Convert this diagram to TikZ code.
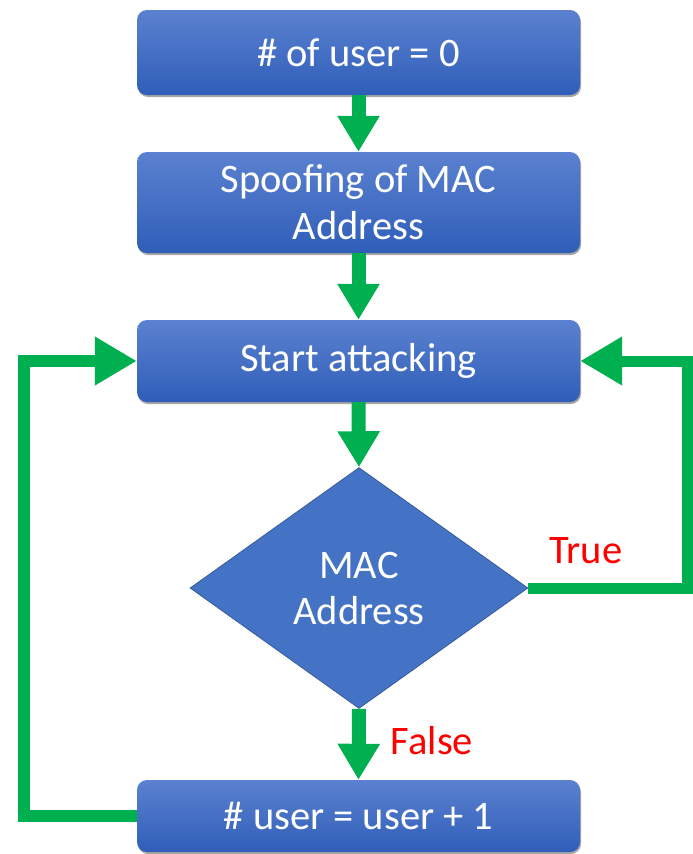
\documentclass[tikz,border=0pt]{standalone}
\usepackage{fontspec}
\setmainfont{Carlito}
\usetikzlibrary{arrows.meta,shapes.geometric,shadows}
\definecolor{boxtop}{HTML}{5B81D0}
\definecolor{boxbot}{HTML}{2F5EB8}
\definecolor{dfill}{HTML}{4472C4}
\definecolor{dline}{HTML}{2F528F}
\definecolor{flow}{HTML}{00B050}
\tikzset{
  procbox/.style={rounded corners=10pt, top color=boxtop, bottom color=boxbot,
    minimum width=443pt, inner sep=0pt, text=white, align=center,
    font=\fontsize{40.5}{47}\selectfont,
    drop shadow={shadow xshift=1pt, shadow yshift=-2pt, opacity=0.35, fill=black}},
  decision/.style={diamond, fill=dfill, draw=dline, line width=0.6pt, inner sep=0pt,
    minimum width=338pt, minimum height=241pt, shape aspect=1.4,
    text=white, align=center, font=\fontsize{40.5}{46}\selectfont},
  flowarrow/.style={draw=flow, line width=14pt,
    -{Triangle[width=40pt,length=36pt]}},
  looparrow/.style={draw=flow, line width=12pt, line join=miter,
    -{Triangle[width=46pt,length=42pt]}},
  lbl/.style={text=red, font=\fontsize{40.5}{46}\selectfont}
}
\begin{document}
\begin{tikzpicture}[x=1pt,y=-1pt]
\useasboundingbox (0,0) rectangle (693,854);
\node[procbox, minimum height=85pt] (b1) at (358.5,52.5) {\# of user = 0};
\node[procbox, minimum height=101pt] (b2) at (358.5,202.5) {Spoofing of MAC\\Address};
\node[procbox, minimum height=82pt] (b3) at (358.5,361) {Start attacking};
\node[decision] (d) at (359,588) {MAC\\Address};
\node[procbox, minimum height=72pt] (b4) at (358.5,816) {\# user = user + 1};
\coordinate (L) at (24,0);
\coordinate (R) at (687,0);
\draw[flowarrow] (b1.south) -- (b2.north);
\draw[flowarrow] (b2.south) -- (b3.north);
\draw[flowarrow] (b3.south) -- (d.north);
\draw[flowarrow] (d.south) -- (b4.north);
\draw[looparrow] (b4.west) -- (b4.west -| L) |- (b3.west);
\draw[looparrow, line width=11pt] (d.east) -- (d.east -| R) |- (b3.east);
\node[lbl] (t) at (586,551) {True};
\node[lbl] (f) at (432,741) {False};
\end{tikzpicture}
\end{document}
